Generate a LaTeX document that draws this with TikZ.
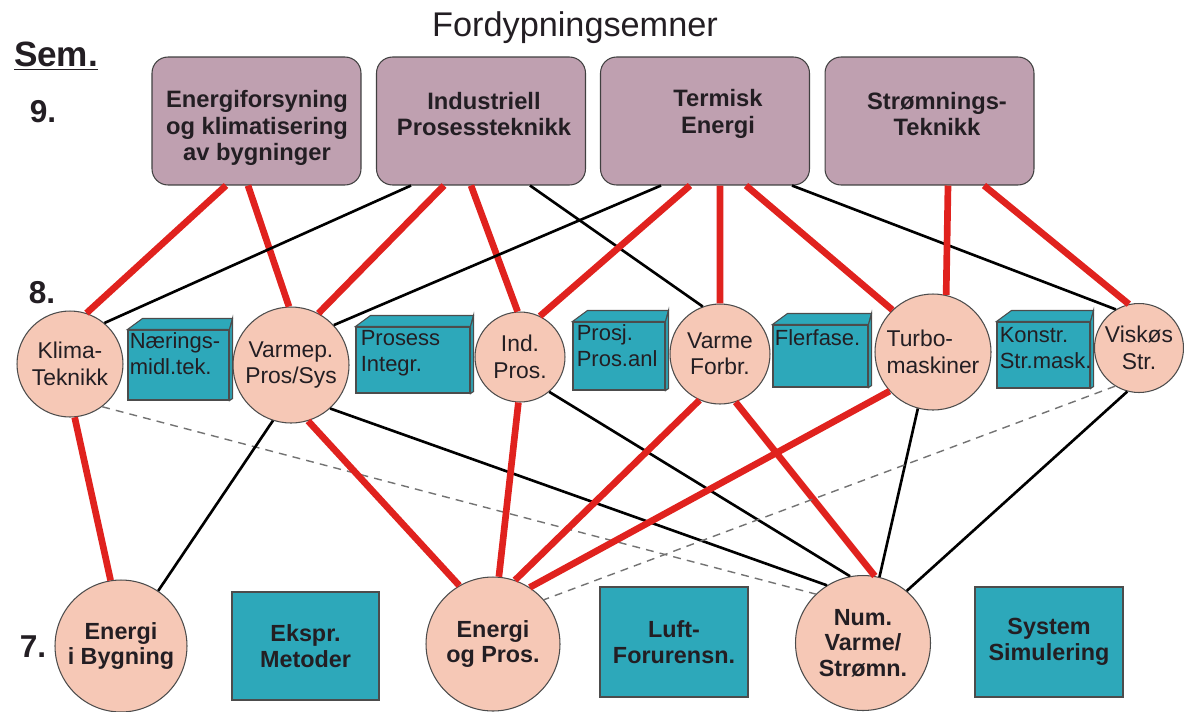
\documentclass[tikz,border=0pt]{standalone}
\usepackage{fontspec}
\setmainfont{Liberation Sans}
\usetikzlibrary{positioning}

\definecolor{mauve}{RGB}{191,160,176}
\definecolor{salmon}{RGB}{246,200,182}
\definecolor{tealbox}{RGB}{45,168,186}
\definecolor{redline}{RGB}{224,34,30}
\definecolor{txt}{RGB}{35,30,35}

\tikzset{
  topic/.style={draw=black!75, fill=mauve, rounded corners=0.32cm, minimum width=4.18cm, minimum height=2.56cm, line width=0.6pt},
  topictext/.style={font=\fontsize{13.5}{15}\selectfont\bfseries, align=center, text=txt, inner sep=0pt},
  course/.style={circle, draw=black!70, fill=salmon, line width=0.6pt, inner sep=0pt, font=\fontsize{13}{15}\selectfont, align=center, text=txt},
  basecourse/.style={circle, draw=black!70, fill=salmon, line width=0.6pt, inner sep=0pt, font=\fontsize{13.3}{14.5}\selectfont\bfseries, align=center, text=txt},
  labbox/.style={draw=black!70, fill=tealbox, line width=0.6pt, inner sep=0pt},
  labtext/.style={font=\fontsize{12.5}{14.5}\selectfont, align=left, anchor=north west, inner sep=0pt, text=txt},
  redlink/.style={redline, line width=3.8pt},
  blacklink/.style={black, line width=1.5pt},
  dashlink/.style={black!55, line width=0.8pt, dash pattern=on 4.5pt off 3.5pt},
}

\begin{document}
\begin{tikzpicture}[x=0.02cm, y=-0.02cm]
  \useasboundingbox (0,0) rectangle (1184,711);

  % headings
  \node[font=\fontsize{19.5}{22}\selectfont, text=txt] (title) at (575,28) {Fordypningsemner};
  \node[font=\fontsize{20}{22}\selectfont\bfseries, text=txt] (sem) at (56,56) {\underline{Sem.}};
  \node[font=\fontsize{18}{20}\selectfont\bfseries, text=txt] (s9) at (43,112) {9.};
  \node[font=\fontsize{18}{20}\selectfont\bfseries, text=txt] (s8) at (42,293) {8.};
  \node[font=\fontsize{18}{20}\selectfont\bfseries, text=txt] (s7) at (33,647) {7.};

  % semester 9
  \node[topic] (t1) at (256.5,121) {};
  \node[topic] (t2) at (481,121) {};
  \node[topic] (t3) at (705,121) {};
  \node[topic] (t4) at (929.5,121) {};
  \node[topictext] (t1l) at (257,128) {Energiforsyning\\og klimatisering\\av bygninger};
  \node[topictext] (t2l) at (484,114) {Industriell\\Prosessteknikk};
  \node[topictext] (t3l) at (718,114) {Termisk\\Energi};
  \node[topictext] (t4l) at (937,114) {Strømnings-\\Teknikk};

  % semester 8
  \node[course, minimum size=2.12cm] (k) at (70,364) {Klima-\\Teknikk};
  \node[course, minimum size=2.32cm] (v) at (291,365) {Varmep.\\Pros/Sys};
  \node[course, minimum size=1.80cm] (i) at (520,357) {Ind.\\Pros.};
  \node[course, minimum size=2.00cm] (f) at (720,354) {Varme\\Forbr.};
  \node[course, minimum size=2.32cm, align=left] (tb) at (933,352) {Turbo-\\maskiner};
  \node[course, minimum size=1.78cm] (vs) at (1139,348) {Viskøs\\Str.};

  \node[labbox, minimum width=2.02cm, minimum height=1.40cm] (nm) at (178.5,365) {};
  \node[labbox, minimum width=2.28cm, minimum height=1.32cm] (pi) at (413,360) {};
  \node[labbox, minimum width=1.84cm, minimum height=1.36cm] (pj) at (619,356) {};
  \node[labbox, minimum width=1.90cm, minimum height=1.24cm] (ff) at (820.5,356) {};
  \node[labbox, minimum width=1.86cm, minimum height=1.32cm] (ks) at (1043.5,355) {};
  \foreach \b in {nm,pi,pj,ff,ks}{
    \filldraw[labbox] (\b.north west) -- ++(15,-11) -- ([shift={(3,-11)}]\b.north east) -- (\b.north east) -- cycle;
    \filldraw[labbox] (\b.north east) -- ([shift={(3,-11)}]\b.north east) -- ([shift={(3,-2)}]\b.south east) -- (\b.south east) -- cycle;
  }
  \node[labtext] (nmt) at ([shift={(2,3)}]nm.north west) {Nærings-\\midl.tek.};
  \node[labtext] (pit) at ([shift={(5,4)}]pi.north west) {Prosess\\Integr.};
  \node[labtext] (pjt) at ([shift={(4,3)}]pj.north west) {Prosj.\\Pros.anl};
  \node[labtext] (fft) at ([shift={(2,5)}]ff.north west) {Flerfase.};
  \node[labtext] (kst) at ([shift={(3,6)}]ks.north west) {Konstr.\\Str.mask.};

  % semester 7
  \node[basecourse, minimum size=2.64cm] (eb) at (121,646) {Energi\\i Bygning};
  \node[basecourse, minimum size=2.68cm] (ep) at (493,644) {Energi\\og Pros.};
  \node[basecourse, minimum size=2.70cm] (nv) at (863,643) {Num.\\Varme/\\Strømn.};
  \node[labbox, minimum width=2.94cm, minimum height=2.16cm, font=\fontsize{13.3}{14.5}\selectfont\bfseries, align=center, text=txt] (em) at (305.5,646) {Ekspr.\\Metoder};
  \node[labbox, minimum width=2.96cm, minimum height=2.20cm, font=\fontsize{13.3}{14.5}\selectfont\bfseries, align=center, text=txt] (lf) at (674,642) {Luft-\\Forurensn.};
  \node[labbox, minimum width=2.96cm, minimum height=2.20cm, font=\fontsize{13.3}{14.5}\selectfont\bfseries, align=center, text=txt] (ss) at (1049,642) {System\\Simulering};

  % 9 -> 8
  \draw[redlink] ([xshift=-0.61cm]t1.south) -- (k.72);
  \draw[redlink] ([xshift=-0.17cm]t1.south) -- (v.92);
  \draw[blacklink] ([xshift=-1.40cm]t2.south) -- (k.50);
  \draw[redlink] ([xshift=-0.74cm]t2.south) -- (v.62);
  \draw[redlink] ([xshift=-0.20cm]t2.south) -- (i.93);
  \draw[blacklink] ([xshift=0.98cm]t2.south) -- (f.110);
  \draw[blacklink] ([xshift=-0.88cm]t3.south) -- (v.43);
  \draw[redlink] ([xshift=-0.30cm]t3.south) -- (i.64);
  \draw[redlink] ([xshift=0.30cm]t3.south) -- (f.90);
  \draw[redlink] ([xshift=0.82cm]t3.south) -- (tb.134);
  \draw[blacklink] ([xshift=1.74cm]t3.south) -- (vs.121);
  \draw[redlink] ([xshift=0.37cm]t4.south) -- (tb.77);
  \draw[redlink] ([xshift=1.09cm]t4.south) -- (vs.103);

  % 8 -> 7
  \draw[redlink] (k.275) -- (eb.99);
  \draw[dashlink] (k.307) -- (nv.134);
  \draw[blacklink] (v.252) -- (eb.56);
  \draw[redlink] (v.287) -- (ep.120);
  \draw[blacklink] (v.312) -- (nv.122);
  \draw[redlink] (i.268) -- (ep.85);
  \draw[blacklink] (i.310) -- (nv.101);
  \draw[redlink] (f.246) -- (ep.71);
  \draw[redlink] (f.288) -- (nv.80);
  \draw[redlink] (tb.222) -- (ep.57);
  \draw[blacklink] (tb.255) -- (nv.76);
  \draw[dashlink] (vs.238) -- (ep.41);
  \draw[blacklink] (vs.255) -- (nv.50);
\end{tikzpicture}
\end{document}
